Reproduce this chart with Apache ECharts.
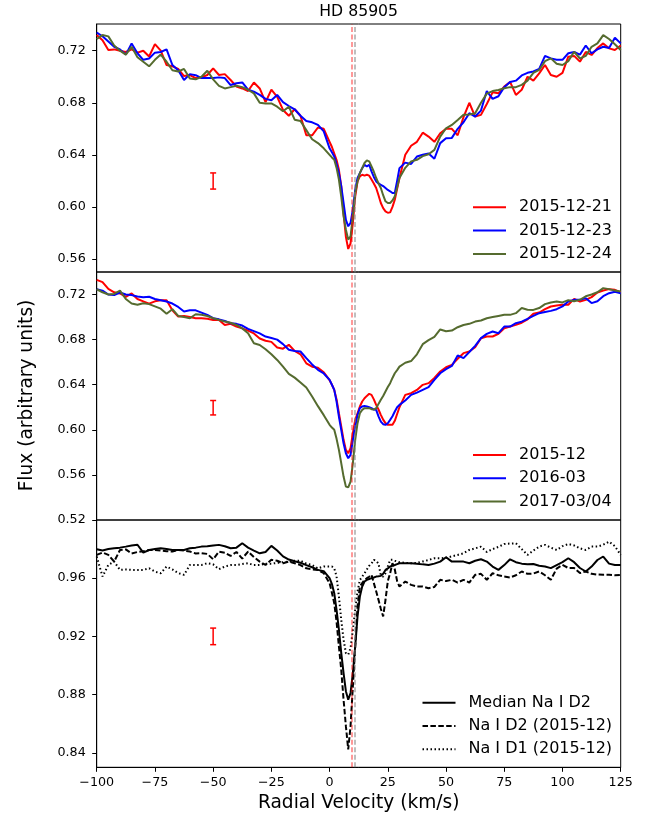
<!DOCTYPE html>
<html>
<head>
<meta charset="utf-8">
<script src="https://cdn.jsdelivr.net/npm/echarts@6/dist/echarts.min.js"></script>
<style>
html,body{margin:0;padding:0;background:#fff;}
#chart{width:651px;height:816px;}
</style>
</head>
<body>
<div id="chart"></div>
<script>
// ---------------- DATA ----------------
const titleText = 'HD 85905';
const xTicks = [-100, -75, -50, -25, 0, 25, 50, 75, 100, 125];
const yTicks1 = [0.56, 0.60, 0.64, 0.68, 0.72];
const yTicks2 = [0.52, 0.56, 0.60, 0.64, 0.68, 0.72];
const yTicks3 = [0.84, 0.88, 0.92, 0.96];

// radial velocity grid (km/s)
const vel = [
  -100, -97.5, -95, -92.5, -90, -87.5, -85, -82.5, -80, -77.5, -75, -72.5, -70, -67.5, -65, -62.5, -60, -57.5, -55, -52.5,
  -50, -47.5, -45, -42.5, -40, -37.5, -35, -32.5, -30, -27.5, -25, -22.5, -20, -17.5, -15, -12.5, -10, -7.5, -5, -2.5,
  0, 1, 2, 3, 4, 5, 6, 7, 8, 9, 10, 11, 12, 13, 14, 15, 16, 17, 18, 19, 20, 21, 22, 23, 24, 25, 26, 27, 28, 29, 30,
  32.5, 35, 37.5, 40, 42.5, 45, 47.5, 50, 52.5, 55, 57.5, 60, 62.5, 65, 67.5, 70, 72.5, 75, 77.5, 80, 82.5, 85, 87.5, 90,
  92.5, 95, 97.5, 100, 102.5, 105, 107.5, 110, 112.5, 115, 117.5, 120, 122.5, 125
];

// Panel 1
const p1Names = ['2015-12-21', '2015-12-23', '2015-12-24'];
const p1_20151221 = [
  0.732, 0.728, 0.7205, 0.721, 0.720, 0.719, 0.721, 0.7185, 0.720, 0.7155, 0.725, 0.720, 0.709, 0.708, 0.706, 0.7005, 0.7013, 0.699, 0.6995, 0.7013,
  0.7064, 0.7013, 0.702, 0.6975, 0.6925, 0.691, 0.689, 0.6956, 0.691, 0.6805, 0.690, 0.6845, 0.6745, 0.670, 0.675, 0.670, 0.655, 0.655, 0.661, 0.660,
  0.650, 0.646, 0.641, 0.636, 0.6285, 0.616, 0.595, 0.577, 0.5677, 0.572, 0.588, 0.608, 0.6196, 0.6234, 0.6247, 0.624, 0.6247, 0.624, 0.621, 0.618,
  0.6145, 0.609, 0.603, 0.599, 0.5966, 0.5955, 0.5958, 0.600, 0.6055, 0.614, 0.6222,
  0.640, 0.647, 0.650, 0.657, 0.654, 0.650, 0.6566, 0.660, 0.660, 0.655, 0.669, 0.680, 0.6694, 0.6707, 0.679, 0.688, 0.6873, 0.6924, 0.696, 0.686,
  0.690, 0.700, 0.697, 0.7026, 0.709, 0.7013, 0.700, 0.703, 0.7154, 0.716, 0.7116, 0.719, 0.7167, 0.722, 0.7256, 0.7218, 0.7205, 0.724
];
const p1_20151223 = [
  0.734, 0.731, 0.727, 0.723, 0.721, 0.717, 0.7256, 0.718, 0.713, 0.714, 0.7185, 0.719, 0.721, 0.709, 0.705, 0.6975, 0.702, 0.7012, 0.699, 0.699,
  0.699, 0.6995, 0.699, 0.6936, 0.695, 0.6956, 0.690, 0.6885, 0.686, 0.683, 0.682, 0.686, 0.6805, 0.6775, 0.675, 0.670, 0.666, 0.665, 0.663, 0.658,
  0.645, 0.642, 0.6388, 0.633, 0.626, 0.616, 0.603, 0.590, 0.5851, 0.5877, 0.598, 0.6132, 0.6222, 0.626, 0.6298, 0.6324, 0.631, 0.6324, 0.6273, 0.623,
  0.6196, 0.618, 0.617, 0.616, 0.6145, 0.613, 0.612, 0.6107, 0.6107, 0.620, 0.6298,
  0.634, 0.633, 0.6387, 0.640, 0.641, 0.637, 0.649, 0.6528, 0.653, 0.660, 0.665, 0.672, 0.6694, 0.674, 0.689, 0.683, 0.685, 0.692, 0.696, 0.697,
  0.701, 0.703, 0.704, 0.706, 0.716, 0.7141, 0.713, 0.713, 0.718, 0.719, 0.717, 0.724, 0.718, 0.721, 0.723, 0.722, 0.730, 0.7256
];
const p1_20151224 = [
  0.729, 0.732, 0.731, 0.724, 0.720, 0.717, 0.723, 0.715, 0.7115, 0.708, 0.713, 0.717, 0.7115, 0.705, 0.704, 0.706, 0.6987, 0.698, 0.700, 0.7046,
  0.698, 0.693, 0.691, 0.692, 0.693, 0.692, 0.690, 0.6872, 0.680, 0.6795, 0.6795, 0.677, 0.6735, 0.677, 0.667, 0.666, 0.659, 0.652, 0.649, 0.645,
  0.640, 0.638, 0.6362, 0.630, 0.621, 0.608, 0.593, 0.5825, 0.5749, 0.5774, 0.593, 0.6107, 0.6196, 0.626, 0.6298, 0.6337, 0.6357, 0.635, 0.6311, 0.627,
  0.6222, 0.618, 0.6145, 0.609, 0.6043, 0.603, 0.603, 0.605, 0.6081, 0.615, 0.6222,
  0.630, 0.635, 0.6362, 0.639, 0.6405, 0.6438, 0.654, 0.6604, 0.663, 0.6668, 0.6707, 0.671, 0.672, 0.680, 0.687, 0.689, 0.6898, 0.6911, 0.692, 0.692,
  0.6937, 0.697, 0.703, 0.7052, 0.712, 0.7141, 0.710, 0.709, 0.712, 0.7192, 0.714, 0.716, 0.723, 0.7256, 0.732, 0.729, 0.725, 0.7205
];

// Panel 2
const p2Names = ['2015-12', '2016-03', '2017-03/04'];
const p2_201512 = [
  0.733, 0.731, 0.725, 0.722, 0.721, 0.718, 0.721, 0.716, 0.714, 0.712, 0.714, 0.715, 0.715, 0.706, 0.7005, 0.701, 0.700, 0.699, 0.699, 0.6985,
  0.6975, 0.6975, 0.693, 0.694, 0.6916, 0.690, 0.688, 0.6855, 0.681, 0.679, 0.678, 0.673, 0.672, 0.6755, 0.670, 0.667, 0.659, 0.656, 0.655, 0.651,
  0.644, 0.640, 0.6354, 0.627, 0.6147, 0.603, 0.5911, 0.5822, 0.5792, 0.5837, 0.597, 0.6088, 0.6147, 0.6207, 0.6251, 0.628, 0.6301, 0.6319, 0.631, 0.627,
  0.6221, 0.618, 0.6133, 0.609, 0.6059, 0.6044, 0.6044, 0.6044, 0.608, 0.614, 0.620,
  0.631, 0.6325, 0.6354, 0.6399, 0.6414, 0.646, 0.6517, 0.6555, 0.6576, 0.663, 0.668, 0.6695, 0.6733, 0.6813, 0.6828, 0.6828, 0.6851, 0.6901, 0.6916, 0.6931,
  0.695, 0.698, 0.7029, 0.704, 0.707, 0.7094, 0.7103, 0.7109, 0.7109, 0.7162, 0.7138, 0.7153, 0.7177, 0.7218, 0.7236, 0.7248, 0.7242, 0.7218
];
const p2_201603 = [
  0.7247, 0.7235, 0.720, 0.7195, 0.7218, 0.720, 0.7195, 0.7182, 0.7175, 0.718, 0.716, 0.715, 0.7138, 0.712, 0.709, 0.705, 0.706, 0.706, 0.704, 0.702,
  0.699, 0.698, 0.6965, 0.6946, 0.694, 0.6925, 0.6895, 0.6875, 0.6855, 0.6827, 0.6815, 0.680, 0.676, 0.671, 0.670, 0.6695, 0.6636, 0.658, 0.6532, 0.650,
  0.6443, 0.640, 0.6354, 0.625, 0.6118, 0.600, 0.5881, 0.5792, 0.5748, 0.5778, 0.5911, 0.603, 0.6133, 0.6192, 0.6207, 0.6212, 0.6207, 0.620, 0.6192, 0.618,
  0.6177, 0.612, 0.6073, 0.605, 0.6044, 0.6058, 0.6088, 0.612, 0.6162, 0.620, 0.6221,
  0.626, 0.631, 0.633, 0.6354, 0.6378, 0.6443, 0.6502, 0.6538, 0.6567, 0.666, 0.6636, 0.669, 0.6745, 0.6813, 0.6851, 0.6872, 0.6857, 0.6916, 0.6916, 0.6946,
  0.696, 0.6985, 0.701, 0.7035, 0.7045, 0.7055, 0.707, 0.7095, 0.7138, 0.7153, 0.7153, 0.7168, 0.7124, 0.714, 0.7185, 0.7212, 0.7225, 0.7212
];
const p2_201703 = [
  0.7247, 0.722, 0.720, 0.7205, 0.7235, 0.716, 0.712, 0.711, 0.7123, 0.7115, 0.7095, 0.7075, 0.703, 0.707, 0.701, 0.700, 0.699, 0.7025, 0.702, 0.701,
  0.699, 0.6975, 0.696, 0.695, 0.693, 0.690, 0.6857, 0.6768, 0.6753, 0.6715, 0.667, 0.662, 0.656, 0.6496, 0.6463, 0.642, 0.6375, 0.6295, 0.621, 0.613,
  0.6044, 0.602, 0.600, 0.592, 0.5822, 0.5704, 0.5585, 0.5496, 0.549, 0.5541, 0.5704, 0.5911, 0.6059, 0.6147, 0.6177, 0.6192, 0.6192, 0.6192, 0.6183, 0.618,
  0.6192, 0.623, 0.6266, 0.630, 0.634, 0.638, 0.6414, 0.646, 0.6502, 0.653, 0.6561,
  0.6595, 0.661, 0.667, 0.676, 0.6795, 0.6825, 0.689, 0.6875, 0.688, 0.691, 0.693, 0.694, 0.696, 0.697, 0.699, 0.700, 0.701, 0.702, 0.702, 0.7035,
  0.708, 0.7065, 0.7064, 0.708, 0.7115, 0.713, 0.7138, 0.713, 0.715, 0.714, 0.7153, 0.7185, 0.720, 0.722, 0.7257, 0.7248, 0.7235, 0.7227
];

// Panel 3
const p3Names = ['Median Na I D2', 'Na I D2 (2015-12)', 'Na I D1 (2015-12)'];
const p3_medianD2 = [
  0.9799, 0.979, 0.980, 0.9806, 0.981, 0.9817, 0.9825, 0.983, 0.9776, 0.9794, 0.980, 0.9806, 0.980, 0.9794, 0.9794, 0.9794, 0.9806, 0.981, 0.9817, 0.982,
  0.9825, 0.9829, 0.982, 0.9806, 0.981, 0.984, 0.981, 0.979, 0.9771, 0.978, 0.9822, 0.979, 0.975, 0.9728, 0.9716, 0.9706, 0.969, 0.9675, 0.9657, 0.9648,
  0.960, 0.956, 0.9497, 0.938, 0.9246, 0.9086, 0.8948, 0.8823, 0.8765, 0.8811, 0.8948, 0.9131, 0.9337, 0.9474, 0.9543, 0.9577, 0.9588, 0.9594, 0.960, 0.9605,
  0.9611, 0.9613, 0.9616, 0.963, 0.9657, 0.9667, 0.968, 0.9686, 0.9691, 0.9697, 0.9703,
  0.9703, 0.9703, 0.970, 0.9695, 0.9691, 0.970, 0.9714, 0.9744, 0.9714, 0.9714, 0.9714, 0.9703, 0.972, 0.973, 0.9714, 0.968, 0.9657, 0.969, 0.973, 0.971,
  0.970, 0.9696, 0.9698, 0.9685, 0.968, 0.9669, 0.969, 0.971, 0.9737, 0.971, 0.967, 0.9646, 0.968, 0.9725, 0.9749, 0.970, 0.9691, 0.9691
];
const p3_D2_201512 = [
  0.976, 0.9776, 0.976, 0.9714, 0.9794, 0.9798, 0.977, 0.978, 0.9785, 0.9794, 0.9794, 0.979, 0.9786, 0.9783, 0.9794, 0.979, 0.9783, 0.977, 0.9772, 0.9767,
  0.973, 0.9783, 0.9775, 0.9753, 0.978, 0.9735, 0.9783, 0.9745, 0.9714, 0.9691, 0.9726, 0.972, 0.9703, 0.9714, 0.9703, 0.969, 0.9668, 0.966, 0.9657, 0.9634,
  0.9566, 0.950, 0.9428, 0.930, 0.9131, 0.8971, 0.8765, 0.8583, 0.8423, 0.8583, 0.8857, 0.9131, 0.9406, 0.9543, 0.9566, 0.9588, 0.960, 0.961, 0.9623, 0.9566,
  0.951, 0.9451, 0.939, 0.9337, 0.945, 0.958, 0.9634, 0.9703, 0.966, 0.958, 0.9543,
  0.9577, 0.9554, 0.9543, 0.9543, 0.9531, 0.954, 0.9589, 0.958, 0.9589, 0.957, 0.9589, 0.957, 0.9623, 0.963, 0.9589, 0.9634, 0.962, 0.9611, 0.9605, 0.962,
  0.9646, 0.963, 0.9632, 0.9646, 0.962, 0.9589, 0.9666, 0.9691, 0.967, 0.967, 0.9635, 0.9646, 0.963, 0.9625, 0.9623, 0.9623, 0.962, 0.9623
];
const p3_D1_201512 = [
  0.9749, 0.9611, 0.9691, 0.9714, 0.9657, 0.966, 0.9657, 0.9657, 0.9657, 0.9668, 0.9645, 0.9634, 0.968, 0.966, 0.9635, 0.9623, 0.9691, 0.969, 0.9691, 0.9703,
  0.9695, 0.9662, 0.968, 0.969, 0.9691, 0.9697, 0.9703, 0.969, 0.9691, 0.970, 0.970, 0.9705, 0.971, 0.9714, 0.972, 0.972, 0.970, 0.9691, 0.9668, 0.968,
  0.968, 0.968, 0.9668, 0.9611, 0.9474, 0.9314, 0.9177, 0.9086, 0.9074, 0.912, 0.9246, 0.9383, 0.9508, 0.9588, 0.961, 0.9634, 0.966, 0.9685, 0.970, 0.9726,
  0.972, 0.970, 0.962, 0.961, 0.9634, 0.968, 0.9726, 0.9726, 0.972, 0.9715, 0.971,
  0.9705, 0.9703, 0.9705, 0.9715, 0.9725, 0.9737, 0.9737, 0.974, 0.975, 0.976, 0.9771, 0.9794, 0.9805, 0.9817, 0.978, 0.980, 0.9815, 0.9835, 0.9838, 0.984,
  0.980, 0.976, 0.979, 0.9817, 0.9829, 0.981, 0.9794, 0.982, 0.9835, 0.9825, 0.9805, 0.9794, 0.9817, 0.9817, 0.983, 0.9851, 0.982, 0.976
];

// reference velocities (vertical dashed lines)
const refVelRed = 9.5;
const refVelGray = 10.6;
// representative error bars: [velocity, centre, half-length] per panel
const errBars = [[-50, 0.6199, 0.0062], [-50, 0.6196, 0.0064], [-50, 0.9200, 0.0057]];

// ---------------- CHART ----------------
const FONT = 'DejaVu Sans';
const chart = echarts.init(document.getElementById('chart'), null, {renderer: 'canvas'});
const pair = arr => vel.map((v, i) => [v, arr[i]]);

const gridDefs = [
  {top: 24, height: 248},
  {top: 272, height: 248},
  {top: 520, height: 247.3}
];
const yRanges = [[0.55, 0.7405, yTicks1], [0.52, 0.74, yTicks2], [0.83, 1.0, yTicks3]];

const grids = gridDefs.map(g => ({
  left: 96.7, width: 524, top: g.top, height: g.height,
  show: true, borderColor: '#000', borderWidth: 1, backgroundColor: 'transparent'
}));

const xAxes = [0, 1, 2].map(i => ({
  type: 'value', gridIndex: i, min: -100, max: 125,
  axisLine: {show: i === 2, onZero: false, lineStyle: {color: '#000', width: 1}},
  axisTick: {show: i === 2, length: 4.5, customValues: xTicks, lineStyle: {color: '#000', width: 1}},
  axisLabel: {
    show: i === 2, customValues: xTicks, margin: 9, fontSize: 12.7, fontFamily: FONT, color: '#000',
    formatter: v => String(v).replace('-', '\u2212')
  },
  splitLine: {show: false},
  name: i === 2 ? 'Radial Velocity (km/s)' : '',
  nameLocation: 'middle', nameGap: 26,
  nameTextStyle: {fontSize: 18.6, fontFamily: FONT, color: '#000'}
}));

const yAxes = yRanges.map((r, i) => ({
  type: 'value', gridIndex: i, min: r[0], max: r[1],
  axisLine: {show: true, onZero: false, lineStyle: {color: '#000', width: 1}},
  axisTick: {show: true, length: 4.5, customValues: r[2], lineStyle: {color: '#000', width: 1}},
  axisLabel: {
    show: true, customValues: r[2], margin: 11, fontSize: 12.7, fontFamily: FONT, color: '#000',
    formatter: v => v.toFixed(2)
  },
  splitLine: {show: false}
}));

function lineSeries(name, arr, gi, color, type) {
  return {
    type: 'line', name: name, xAxisIndex: gi, yAxisIndex: gi,
    data: pair(arr), symbol: 'none', showSymbol: false, smooth: false,
    lineStyle: {color: color, width: 2, type: type || 'solid'},
    itemStyle: {color: color},
    emphasis: {disabled: true}, z: 3
  };
}

const RED = '#ff0000', BLUE = '#0000ff', GREEN = '#556b2f', BLACK = '#000000';
const series = [
  lineSeries(p1Names[0], p1_20151221, 0, RED),
  lineSeries(p1Names[1], p1_20151223, 0, BLUE),
  lineSeries(p1Names[2], p1_20151224, 0, GREEN),
  lineSeries(p2Names[0], p2_201512, 1, RED),
  lineSeries(p2Names[1], p2_201603, 1, BLUE),
  lineSeries(p2Names[2], p2_201703, 1, GREEN),
  lineSeries(p3Names[0], p3_medianD2, 2, BLACK),
  lineSeries(p3Names[1], p3_D2_201512, 2, BLACK, [5.5, 2.4]),
  lineSeries(p3Names[2], p3_D1_201512, 2, BLACK, [1.5, 2.5])
];

// vertical reference lines and error bars in each panel
[0, 1, 2].forEach(gi => {
  series.push({
    type: 'line', name: 'ref' + gi, xAxisIndex: gi, yAxisIndex: gi, data: [], z: 5, silent: true,
    markLine: {
      silent: true, symbol: ['none', 'none'], animation: false,
      label: {show: false},
      data: [
        {xAxis: refVelRed, lineStyle: {color: 'rgba(255,0,0,0.4)', width: 2, type: [5, 2.5]}},
        {xAxis: refVelGray, lineStyle: {color: 'rgba(128,128,128,0.5)', width: 2, type: [5, 2.5]}}
      ]
    }
  });
  series.push({
    type: 'custom', name: 'err' + gi, xAxisIndex: gi, yAxisIndex: gi, silent: true, z: 4,
    data: [errBars[gi]],
    renderItem: function (params, api) {
      const x = api.value(0), c = api.value(1), h = api.value(2);
      const top = api.coord([x, c + h]);
      const bot = api.coord([x, c - h]);
      const w = 3;
      const st = {stroke: '#ff0000', lineWidth: 1.5};
      return {
        type: 'group',
        children: [
          {type: 'line', shape: {x1: top[0], y1: top[1], x2: bot[0], y2: bot[1]}, style: st},
          {type: 'line', shape: {x1: top[0] - w, y1: top[1], x2: top[0] + w, y2: top[1]}, style: st},
          {type: 'line', shape: {x1: bot[0] - w, y1: bot[1], x2: bot[0] + w, y2: bot[1]}, style: st}
        ]
      };
    }
  });
});

function legendDef(names, left, top) {
  return {
    data: names, orient: 'vertical', left: left, top: top,
    itemWidth: 33, itemHeight: 16, itemGap: 7.3, selectedMode: false,
    itemStyle: {opacity: 0, borderWidth: 0},
    lineStyle: {width: 2},
    textStyle: {fontSize: 16, lineHeight: 16, fontFamily: FONT, color: '#000', padding: [0, 0, 0, 8]}
  };
}

const option = {
  animation: false,
  backgroundColor: '#ffffff',
  grid: grids,
  xAxis: xAxes,
  yAxis: yAxes,
  legend: [
    legendDef(p1Names, 467, 194.3),
    legendDef(p2Names, 467, 442),
    legendDef(p3Names, 416.5, 689.7)
  ],
  graphic: [
    {type: 'text', x: 358.7, y: 11.5, silent: true,
     style: {text: titleText, fontSize: 15.7, fontFamily: FONT, fill: '#000', align: 'center', verticalAlign: 'middle'}},
    {type: 'text', x: 27.5, y: 395.5, rotation: Math.PI / 2, silent: true,
     style: {text: 'Flux (arbitrary units)', fontSize: 18.6, fontFamily: FONT, fill: '#000', align: 'center', verticalAlign: 'middle'}}
  ],
  series: series
};
chart.setOption(option);
</script>
</body>
</html>
